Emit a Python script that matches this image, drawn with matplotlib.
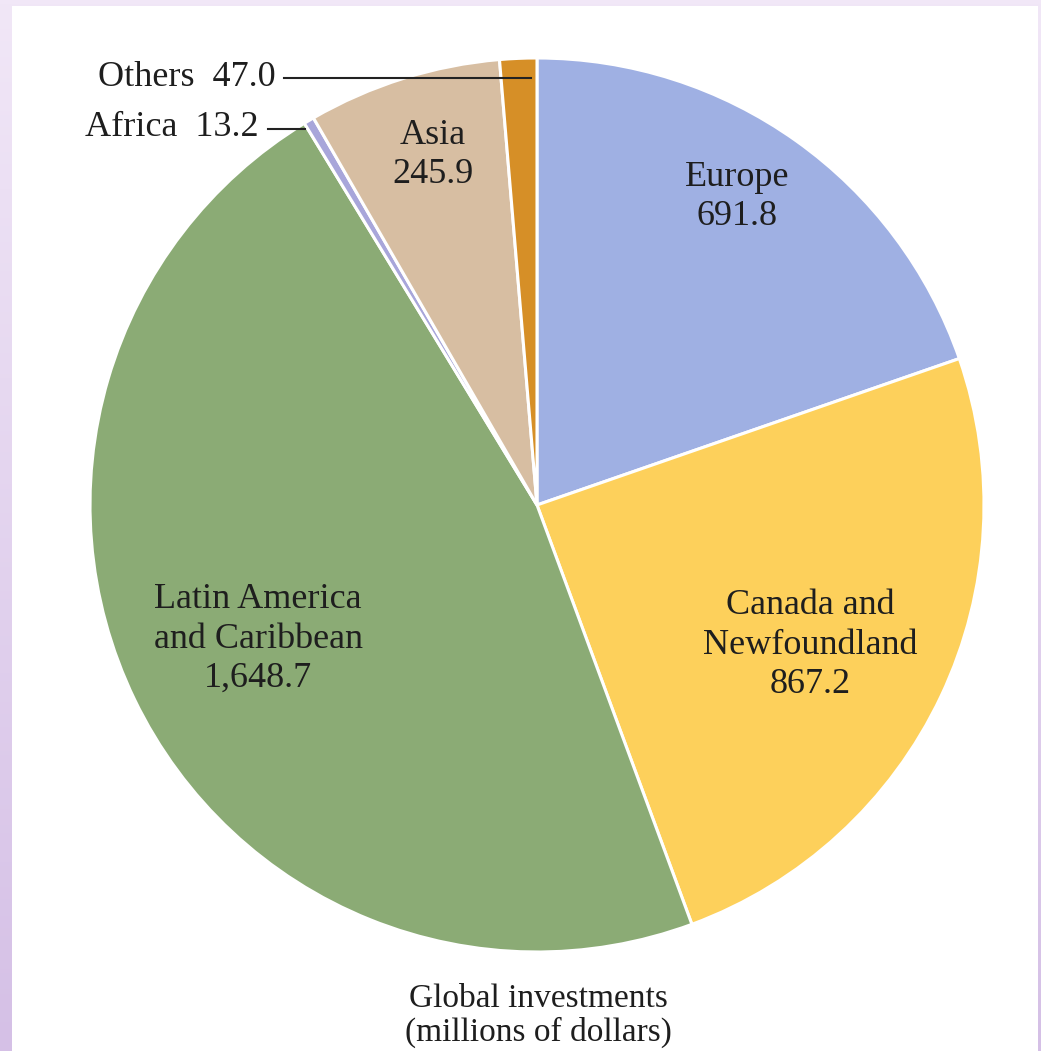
import numpy as np
import matplotlib
matplotlib.use("Agg")
import matplotlib.pyplot as plt
from matplotlib.patches import Rectangle
from matplotlib.colors import LinearSegmentedColormap

regions = ["Europe", "Canada and\nNewfoundland", "Latin America\nand Caribbean", "Africa", "Asia", "Others"]
values = [691.8, 867.2, 1648.7, 13.2, 245.9, 47.0]
value_labels = ["691.8", "867.2", "1,648.7", "13.2", "245.9", "47.0"]
colors = ["#9fb0e3", "#fdd05b", "#8bab75", "#a8a6da", "#d7bea2", "#d68f27"]
title = "Global investments\n(millions of dollars)"

W, H = 1041, 1051
fig = plt.figure(figsize=(W / 100, H / 100), dpi=100)

# background gradient (lavender frame)
bg = fig.add_axes([0, 0, 1, 1])
grad = np.linspace(0, 1, 256).reshape(-1, 1)
cmap = LinearSegmentedColormap.from_list("lav", ["#f1e7f7", "#d5c0e6"])
bg.imshow(grad, aspect="auto", cmap=cmap, extent=[0, 1, 0, 1], origin="upper")
bg.set_xlim(0, 1); bg.set_ylim(0, 1)
bg.axis("off")

ax = fig.add_axes([0, 0, 1, 1])
ax.patch.set_alpha(0)

def Y(v):
    return H - v

cx, cy, r = 537, Y(505), 447
ax.pie(values, colors=colors, startangle=90, counterclock=False,
       center=(cx, cy), radius=r, frame=True,
       wedgeprops=dict(edgecolor="white", linewidth=2.2))
ax.add_patch(Rectangle((12, 0), 1026, H - 6, facecolor="white", edgecolor="none", zorder=0))
ax.set_xlim(0, W)
ax.set_ylim(0, H)
ax.set_aspect("equal")
ax.axis("off")

font = ["Liberation Serif", "DejaVu Serif"]
fs = 26
tc = "#1e1e1e"
kw = dict(family=font, fontsize=fs, color=tc, ha="center", va="center", linespacing=1.26)

ax.text(737, Y(197), f"{regions[0]}\n{value_labels[0]}", **kw)
ax.text(810, Y(645), f"{regions[1]}\n{value_labels[1]}", **kw)
ax.text(258, Y(639), f"{regions[2]}\n{value_labels[2]}", **kw)
ax.text(433, Y(155), f"{regions[4]}\n{value_labels[4]}", **kw)

ax.text(276, Y(77), f"{regions[5]}  {value_labels[5]}", family=font, fontsize=fs, color=tc,
        ha="right", va="center")
ax.plot([284, 531], [Y(78), Y(78)], color="#222222", lw=1.5, zorder=5)
ax.text(259, Y(128), f"{regions[3]}  {value_labels[3]}", family=font, fontsize=fs, color=tc,
        ha="right", va="center")
ax.plot([268, 305], [Y(129), Y(129)], color="#222222", lw=1.5, zorder=5)

ax.text(538, Y(1016), title, family=font, fontsize=24, color=tc, ha="center", va="center",
        linespacing=1.1)

fig.savefig("out.png", dpi=100)
